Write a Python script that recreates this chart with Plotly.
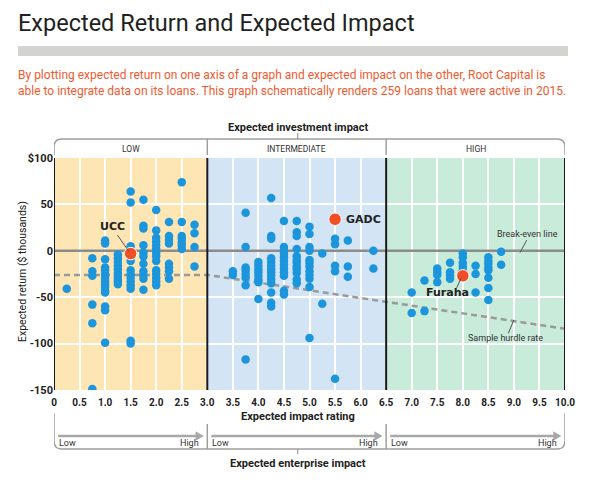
import plotly.graph_objects as go

# expected impact rating columns and the expected returns ($ thousands)
low_cols = [0.25, 0.75, 1.0, 1.25, 1.5, 1.75, 2.0, 2.25, 2.5, 2.75]
low_returns = [
    [-41],
    [-8, -22, -27, -58, -78, -149],
    [11, 8, -9, -18, -21, -25, -29, -33, -36, -39, -43, -45, -60, -64, -99],
    [-4, -8, -12, -16, -20, -24, -27, -30, -33, -36],
    [64, 52, 5, -11, -21, -25, -29, -33, -37, -41, -97, -100],
    [55, 27, 24, 6, -2, -6, -14, -22, -26, -30, -42],
    [44, 22, 14, 10, 6, 2, -2, -6, -11, -21, -25, -29, -33, -37],
    [31, 16, 12, 8, -14, -18, -22, -30],
    [74, 31, 16, 13, 9, 6, 2],
    [28, 19, 4, -17],
]
mid_cols = [3.5, 3.75, 4.0, 4.25, 4.5, 4.75, 5.0, 5.25, 5.5, 5.75, 6.25]
mid_returns = [
    [-22, -26],
    [41, 4, -18, -21, -25, -29, -37, -117],
    [-12, -16, -20, -23, -27, -31, -34, -52],
    [57, 16, 13, -8, -12, -16, -20, -23, -27, -31, -35, -45, -56, -60],
    [32, 4, 0, -3, -7, -11, -15, -19, -23, -27, -43, -47],
    [32, 20, 16, 2, -6, -10, -13, -17, -20, -24, -31, -35],
    [26, 18, 4, 0, -10, -13, -17, -22, -26, -30, -39, -94],
    [-3, -57],
    [13, 7, -16, -22, -138],
    [11, -17, -28],
    [0, -19],
]
high_cols = [7.0, 7.25, 7.5, 7.75, 8.0, 8.25, 8.5, 8.75]
high_returns = [
    [-45, -67],
    [-32, -65],
    [-19, -23, -26, -34],
    [-13, -23, -27, -30],
    [-3, -7, -13, -17, -21],
    [-16, -25, -45],
    [-7, -11, -14, -18, -21, -29, -40, -53],
    [-1, -15],
]

named = ["UCC", "GADC", "Furaha"]
named_x = [1.5, 5.5, 8.0]
named_y = [-3, 34, -27]

breakeven_x = [0, 10]
breakeven_y = [0, 0]
hurdle_x = [0, 3, 10]
hurdle_y = [-26, -26, -84]

bands = ["LOW", "INTERMEDIATE", "HIGH"]
band_edges = [0, 3, 6.5, 10]
band_colors = ["#fde5b4", "#d3e4f5", "#c9ebda"]

x_ticks = [i * 0.5 for i in range(21)]
x_ticktext = ["0"] + ["%.1f" % v for v in x_ticks[1:]]
y_ticks = [-150, -100, -50, 0, 50, 100]
y_ticktext = ["-150", "-100", "-50", "0", "50", "$100"]

FONT = "Roboto, Lato, sans-serif"
BLUE = "#1b95dc"
RED = "#f04e23"
GREY = "#9a9a9a"

# the page puts the figure 8px in from the top-left corner
OFF = 8
W, H = 592 - OFF, 486 - OFF
L, R, T, B = 46, 27, 150, 96


def px_x(sx):
    # screen x pixel -> paper x
    return (sx - OFF - L) / (W - L - R)


def px_y(sy):
    # screen y pixel -> paper y
    return (H - B - (sy - OFF)) / (H - T - B)


def flatten(cols, rets):
    xs, ys = [], []
    for c, r in zip(cols, rets):
        xs += [c] * len(r)
        ys += r
    return xs, ys


fig = go.Figure()

fig.add_scatter(x=hurdle_x, y=hurdle_y, mode="lines", hoverinfo="skip",
                line=dict(color=GREY, width=2.5, dash="6px,4px"))
fig.add_scatter(x=breakeven_x, y=breakeven_y, mode="lines", hoverinfo="skip",
                line=dict(color="#8c8c8c", width=2.5))

for cols, rets in [(low_cols, low_returns), (mid_cols, mid_returns), (high_cols, high_returns)]:
    xs, ys = flatten(cols, rets)
    fig.add_scatter(x=xs, y=ys, mode="markers",
                    marker=dict(color=BLUE, size=8.5, line=dict(width=0)))

fig.add_scatter(x=named_x, y=named_y, mode="markers", text=named,
                marker=dict(color=RED, size=12.5, line=dict(color="white", width=1)))

shapes = []
# coloured bands
for i in range(3):
    shapes.append(dict(type="rect", xref="x", yref="y", x0=band_edges[i], x1=band_edges[i + 1],
                       y0=-150, y1=100, fillcolor=band_colors[i], line_width=0, layer="below"))
# dark band borders
for e in band_edges:
    shapes.append(dict(type="line", xref="x", yref="y", x0=e, x1=e, y0=-150, y1=100,
                       line=dict(color="#1a1a1a", width=2)))

# header bracket (rounded top corners)
yt, yb = px_y(139), px_y(155)
rx, ry = 0.16, 0.035
shapes.append(dict(type="path", xref="x", yref="paper",
                   path="M 0,%f L 0,%f Q 0,%f %f,%f L %f,%f Q 10,%f 10,%f L 10,%f" % (
                       yb, yt - ry, yt, rx, yt, 10 - rx, yt, yt, yt - ry, yb),
                   line=dict(color="#a0a0a0", width=1.5)))
for e in band_edges[1:3]:
    shapes.append(dict(type="line", xref="x", yref="paper", x0=e, x1=e, y0=yt, y1=yb,
                       line=dict(color="#a0a0a0", width=1.5)))
shapes.append(dict(type="line", xref="x", yref="paper", x0=4.77, x1=4.77, y0=px_y(133), y1=yt,
                   line=dict(color="#888", width=1)))

# footer bracket (rounded bottom corners)
ft, fb = px_y(413), px_y(449)
shapes.append(dict(type="path", xref="x", yref="paper",
                   path="M 0,%f L 0,%f Q 0,%f %f,%f L %f,%f Q 10,%f 10,%f L 10,%f" % (
                       ft, fb + ry, fb, rx, fb, 10 - rx, fb, fb, fb + ry, ft),
                   line=dict(color="#a0a0a0", width=1.5)))
for e in band_edges[1:3]:
    shapes.append(dict(type="line", xref="x", yref="paper", x0=e, x1=e, y0=px_y(424), y1=fb,
                       line=dict(color="#a0a0a0", width=1.5)))
shapes.append(dict(type="line", xref="x", yref="paper", x0=4.77, x1=4.77, y0=fb, y1=px_y(454),
                   line=dict(color="#888", width=1)))
ya = px_y(436)
for i in range(3):
    a0, a1 = band_edges[i] + 0.08, band_edges[i + 1] - 0.1
    shapes.append(dict(type="line", xref="x", yref="paper", x0=a0, x1=a1 - 0.05, y0=ya, y1=ya,
                       line=dict(color="#a8a8a8", width=2.5)))
    shapes.append(dict(type="path", xref="x", yref="paper",
                       path="M %f,%f L %f,%f L %f,%f Z" % (a1 - 0.13, ya + 0.02, a1 + 0.03, ya,
                                                            a1 - 0.13, ya - 0.02),
                       fillcolor="#a8a8a8", line_width=0))

# grey rule under the title
shapes.append(dict(type="rect", xref="paper", yref="paper", x0=px_x(18), x1=px_x(568),
                   y0=px_y(56), y1=px_y(46), fillcolor="#d3d3cf", line_width=0))

# leader lines for labels
leaders = [
    (1.24, 17, 1.47, -1),
    (7.88, -40, 7.97, -29),
    (9.12, -2, 9.25, 11.5),
    (9.0, -74.5, 8.89, -89),
]
for x0, y0, x1, y1 in leaders:
    shapes.append(dict(type="line", xref="x", yref="y", x0=x0, y0=y0, x1=x1, y1=y1,
                       line=dict(color="#555", width=1)))

ann = []


def note(text, x, y, size, color="#222", xref="x", yref="paper", xanchor="center", **kw):
    ann.append(dict(xref=xref, yref=yref, x=x, y=y, text=text, showarrow=False,
                    xanchor=xanchor, yanchor="middle",
                    font=dict(family=kw.pop("family", FONT), size=size, color=color), **kw))


note("Expected Return and Expected Impact", px_x(16), px_y(23), 23.5, "#231f20", xref="paper",
     xanchor="left")
note("By plotting expected return on one axis of a graph and expected impact on the other, Root Capital is"
     "<br>able to integrate data on its loans. This graph schematically renders 259 loans that were active in 2015.",
     px_x(16), px_y(83), 12, "#f15a2f", xref="paper", xanchor="left", align="left")
note("<b>Expected investment impact</b>", 4.77, px_y(127), 11)
for i, b in enumerate(bands):
    note(b, (band_edges[i] + band_edges[i + 1]) / 2, px_y(148.5), 8.5, "#333")
note("<b>Expected impact rating</b>", 4.77, px_y(416), 11)
for i in range(3):
    note("Low", band_edges[i] + 0.06, px_y(443), 9, "#333", xanchor="left")
    note("High", band_edges[i + 1] - 0.12, px_y(443), 9, "#333", xanchor="right")
note("<b>Expected enterprise impact</b>", 4.77, px_y(463), 11)
note("Expected return ($ thousands)", px_x(22), px_y(272), 10.5, xref="paper", textangle=-90)

# point labels
note("<b>UCC</b>", 1.15, 26, 11, yref="y", family="DejaVu Sans")
note("<b>GADC</b>", 5.68, 34, 11, yref="y", xanchor="left", family="DejaVu Sans")
note("<b>Furaha</b>", 7.71, -45, 11, yref="y", family="DejaVu Sans")
note("Break-even line", 9.26, 18, 9, "#333", yref="y")
note("Sample hurdle rate", 8.83, -94, 9, "#333", yref="y")

fig.update_layout(
    width=W, height=H,
    margin=dict(l=L, r=R, t=T, b=B),
    paper_bgcolor="white", plot_bgcolor="white",
    showlegend=False,
    shapes=shapes, annotations=ann,
    xaxis=dict(range=[0, 10], tickvals=x_ticks, ticktext=x_ticktext, showgrid=True,
               gridcolor="white", gridwidth=1.5, zeroline=False, showline=False,
               ticks="outside", ticklen=3, tickcolor="rgba(0,0,0,0)",
               tickfont=dict(family=FONT, size=10, color="#222", weight="bold"), fixedrange=True),
    yaxis=dict(range=[-150, 100], tickvals=y_ticks, ticktext=y_ticktext, showgrid=True,
               gridcolor="white", gridwidth=1.5, zeroline=False, showline=False,
               tickfont=dict(family=FONT, size=11, color="#222", weight="bold"), fixedrange=True),
)

fig.write_html("out.html")
